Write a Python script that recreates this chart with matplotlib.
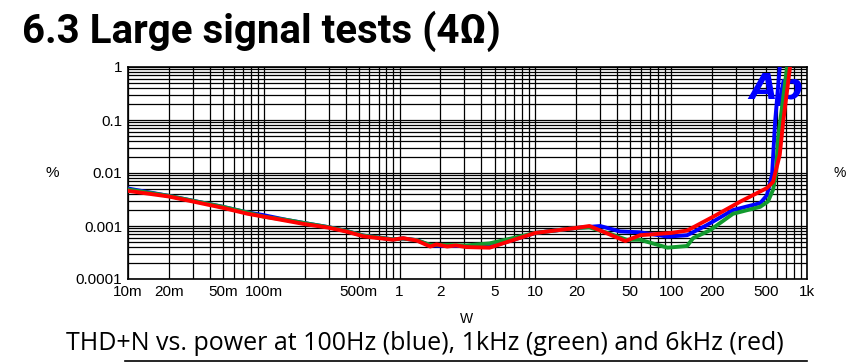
import matplotlib.pyplot as plt
from matplotlib.ticker import FixedLocator, LogLocator, NullFormatter

# Data (power in W, THD+N in %)
blue_w = [0.01, 0.02, 0.03, 0.05, 0.076, 0.1, 0.148, 0.194, 0.3, 0.41, 0.54, 0.89, 1.06, 1.34, 1.68, 2.24, 3.1, 4.6,
          10, 20, 30, 42, 59, 94, 131, 183, 285, 452, 507, 553, 582, 630]
blue_thd = [0.0051, 0.0037, 0.003, 0.0023, 0.0018, 0.0016, 0.0013, 0.00115, 0.00095, 0.0008, 0.00066, 0.00056, 0.00058,
            0.00054, 0.00043, 0.00042, 0.00042, 0.0004,
            0.00074, 0.00092, 0.001, 0.00079, 0.00076, 0.00063, 0.00067, 0.00104, 0.002, 0.0027, 0.0038, 0.0093, 0.091, 1.0]

green_w = [0.01, 0.02, 0.03, 0.05, 0.076, 0.1, 0.148, 0.194, 0.3, 0.41, 0.54, 0.89, 1.06, 1.34, 1.68, 2.24, 3.1, 4.6,
           10, 20, 25, 34, 47, 59, 94, 131, 145, 193, 285, 452, 516, 562, 590, 612, 713]
green_thd = [0.0049, 0.0037, 0.003, 0.0023, 0.0018, 0.0015, 0.0013, 0.00115, 0.00095, 0.0008, 0.00066, 0.00056, 0.00058,
             0.00054, 0.00044, 0.00044, 0.00043, 0.00047,
             0.00074, 0.00092, 0.00094, 0.00074, 0.00055, 0.00055, 0.00039, 0.00042, 0.00059, 0.00083, 0.0017, 0.0023,
             0.0029, 0.0048, 0.0093, 0.045, 1.0]

red_w = [0.01, 0.02, 0.03, 0.05, 0.076, 0.1, 0.148, 0.194, 0.3, 0.41, 0.54, 0.89, 1.06, 1.34, 1.68, 1.87, 2.24, 2.6,
         3.1, 4.6, 10, 20, 25, 46, 59, 100, 131, 204, 324, 507, 562, 630, 668, 750]
red_thd = [0.0046, 0.0036, 0.0029, 0.0022, 0.0017, 0.0015, 0.00125, 0.0011, 0.00093, 0.00078, 0.00064, 0.00055,
           0.00059, 0.00053, 0.00041, 0.00045, 0.00041, 0.00043, 0.0004, 0.00039,
           0.00074, 0.00092, 0.001, 0.00052, 0.00067, 0.00074, 0.00082, 0.0015, 0.0029, 0.0052, 0.0068, 0.022, 0.093, 1.0]

x_ticks = [0.01, 0.02, 0.05, 0.1, 0.5, 1, 2, 5, 10, 20, 50, 100, 200, 500, 1000]
x_labels = ['10m', '20m', '50m', '100m', '500m', '1', '2', '5', '10', '20', '50', '100', '200', '500', '1k']
y_ticks = [0.0001, 0.001, 0.01, 0.1, 1]
y_labels = ['0.0001', '0.001', '0.01', '0.1', '1']

fig = plt.figure(figsize=(8.49, 3.62), dpi=100)
ax = fig.add_axes([128 / 849, 1 - 279 / 362, (807 - 128) / 849, (279 - 67) / 362])

ax.set_xscale('log')
ax.set_yscale('log')
ax.set_xlim(0.01, 1000)
ax.set_ylim(0.0001, 1)

# Grid: black, every major and minor decade step
ax.xaxis.set_minor_locator(LogLocator(base=10, subs=range(2, 10), numticks=20))
ax.yaxis.set_minor_locator(LogLocator(base=10, subs=range(2, 10), numticks=20))
ax.grid(True, which='both', color='black', linewidth=0.9)
ax.set_axisbelow(True)

ax.xaxis.set_major_locator(FixedLocator(x_ticks))
ax.set_xticklabels(x_labels)
ax.xaxis.set_minor_formatter(NullFormatter())
ax.yaxis.set_major_locator(FixedLocator(y_ticks))
ax.set_yticklabels(y_labels)
ax.yaxis.set_minor_formatter(NullFormatter())
ax.tick_params(which='both', length=0, labelsize=11, pad=4)
for lab in ax.get_xticklabels() + ax.get_yticklabels():
    lab.set_family('Liberation Sans')
for s in ax.spines.values():
    s.set_linewidth(1.2)

# Ap logo, under the curves
ax.text(0.995, 0.975, 'Ap', transform=ax.transAxes, ha='right', va='top', color='#0000ff',
        fontsize=26, fontweight='bold', style='italic', family='DejaVu Sans', zorder=2)

ax.plot(blue_w, blue_thd, color='#0000ff', linewidth=2.8, zorder=3)
ax.plot(green_w, green_thd, color='#129a2e', linewidth=2.8, zorder=4)
ax.plot(red_w, red_thd, color='#ff0000', linewidth=2.8, zorder=5)

# Labels
fig.text(466 / 849, 1 - 319 / 362, 'W', ha='center', va='center', fontsize=10, family='Liberation Sans')
fig.text(52 / 849, 1 - 173 / 362, '%', ha='center', va='center', fontsize=11, family='Liberation Sans')
fig.text(846 / 849, 1 - 173 / 362, '%', ha='right', va='center', fontsize=10, family='Liberation Sans')

fig.text(22 / 849, 1 - 31 / 362, '6.3 Large signal tests (4Ω)', ha='left', va='center',
         fontsize=29, fontweight='bold', family='Roboto')
fig.text(425 / 849, 1 - 344 / 362, 'THD+N vs. power at 100Hz (blue), 1kHz (green) and 6kHz (red)',
         ha='center', va='center', fontsize=18, family='Open Sans')

# top edge of the next chart peeking in at the bottom
fig.add_artist(plt.Line2D([125 / 849, 807 / 849], [1.5 / 362, 1.5 / 362], color='black', linewidth=1.2))

fig.savefig('out.png', dpi=100)
